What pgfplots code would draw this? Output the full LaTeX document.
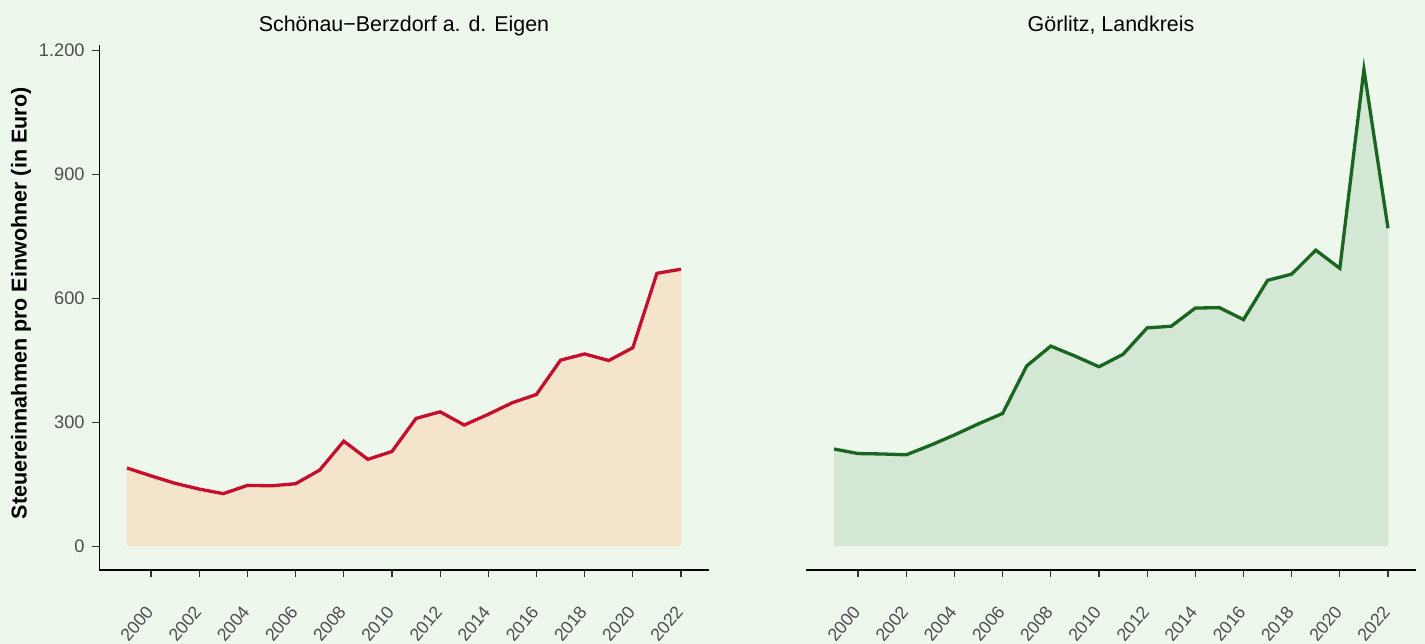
\documentclass[border=0pt]{standalone}
\usepackage{fontspec}
\setmainfont{Liberation Sans}
\usepackage{pgfplots}
\pgfplotsset{compat=1.18}
\definecolor{bg}{RGB}{237,247,236}
\definecolor{fillL}{RGB}{245,228,204}
\definecolor{lineL}{RGB}{196,16,46}
\definecolor{fillR}{RGB}{212,230,212}
\definecolor{lineR}{RGB}{26,102,32}
\definecolor{labelgray}{RGB}{77,77,77}
\definecolor{tickgray}{RGB}{51,51,51}
\pgfplotsset{
  panel/.style={
    width=304.7bp, height=262.3bp, scale only axis,
    xmin=1997.85, xmax=2023.15, ymin=-57.7, ymax=1211.4,
    axis line style={-, black, line width=0.55bp},
    tick align=outside, major tick length=3.5bp,
    tick style={color=tickgray, line width=0.6bp},
    xtick={2000,2002,2004,2006,2008,2010,2012,2014,2016,2018,2020,2022},
    xticklabels={2000,2002,2004,2006,2008,2010,2012,2014,2016,2018,2020,2022},
    ticklabel style={font=\fontsize{9.15}{10}\selectfont, text=labelgray, inner sep=0pt},
    xticklabel style={xshift=-0.7bp, yshift=-15.75bp, rotate=50, anchor=east, font=\fontsize{8.9}{10}\selectfont},
    title style={at={(0.5,1)}, anchor=base, yshift=1.2bp, font=\fontsize{10.75}{12}\selectfont, inner sep=0pt},
  }
}
\begin{document}
\begin{tikzpicture}
\fill[bg] (-49.65bp,-37bp) rectangle (662.85bp,285bp);
\useasboundingbox (-49.65bp,-37bp) rectangle (662.85bp,285bp);
\begin{axis}[panel,
  at={(0bp,0bp)}, anchor=south west,
  axis x line*=bottom, axis y line*=left,
  ytick={0,300,600,900,1200}, yticklabels={0,300,600,900,1.200},
  yticklabel style={anchor=east, xshift=-3.65bp},
  title={Schönau−Berzdorf a. d. Eigen},
  ylabel={Steuereinnahmen pro Einwohner (in Euro)},
  ylabel style={at={(axis description cs:-0.1285,0.508)}, anchor=center, font=\bfseries\fontsize{10.8}{12}\selectfont},
]
\addplot[draw=none, fill=fillL] coordinates {
(1999,189) (2000,170) (2001,152) (2002,138) (2003,127) (2004,147) (2005,146) (2006,151) (2007,184) (2008,254) (2009,210) (2010,229) (2011,309) (2012,325) (2013,293) (2014,319) (2015,347) (2016,367) (2017,450) (2018,465) (2019,449) (2020,480) (2021,660) (2022,670)
} \closedcycle;
\addplot[color=lineL, line width=1.65bp] coordinates {
(1999,189) (2000,170) (2001,152) (2002,138) (2003,127) (2004,147) (2005,146) (2006,151) (2007,184) (2008,254) (2009,210) (2010,229) (2011,309) (2012,325) (2013,293) (2014,319) (2015,347) (2016,367) (2017,450) (2018,465) (2019,449) (2020,480) (2021,660) (2022,670)
};
\end{axis}
\begin{axis}[panel,
  at={(353.5bp,0bp)}, anchor=south west,
  axis x line*=bottom, axis y line=none,
  ytick=\empty,
  title={Görlitz, Landkreis},
]
\addplot[draw=none, fill=fillR] coordinates {
(1999,235) (2000,224) (2001,223) (2002,221) (2003,244) (2004,269) (2005,296) (2006,321) (2007,436) (2008,484) (2009,460) (2010,434) (2011,464) (2012,528) (2013,532) (2014,576) (2015,577) (2016,548) (2017,643) (2018,658) (2019,716) (2020,672) (2021,1153) (2022,769)
} \closedcycle;
\addplot[color=lineR, line width=1.65bp] coordinates {
(1999,235) (2000,224) (2001,223) (2002,221) (2003,244) (2004,269) (2005,296) (2006,321) (2007,436) (2008,484) (2009,460) (2010,434) (2011,464) (2012,528) (2013,532) (2014,576) (2015,577) (2016,548) (2017,643) (2018,658) (2019,716) (2020,672) (2021,1153) (2022,769)
};
\end{axis}
\end{tikzpicture}
\end{document}
